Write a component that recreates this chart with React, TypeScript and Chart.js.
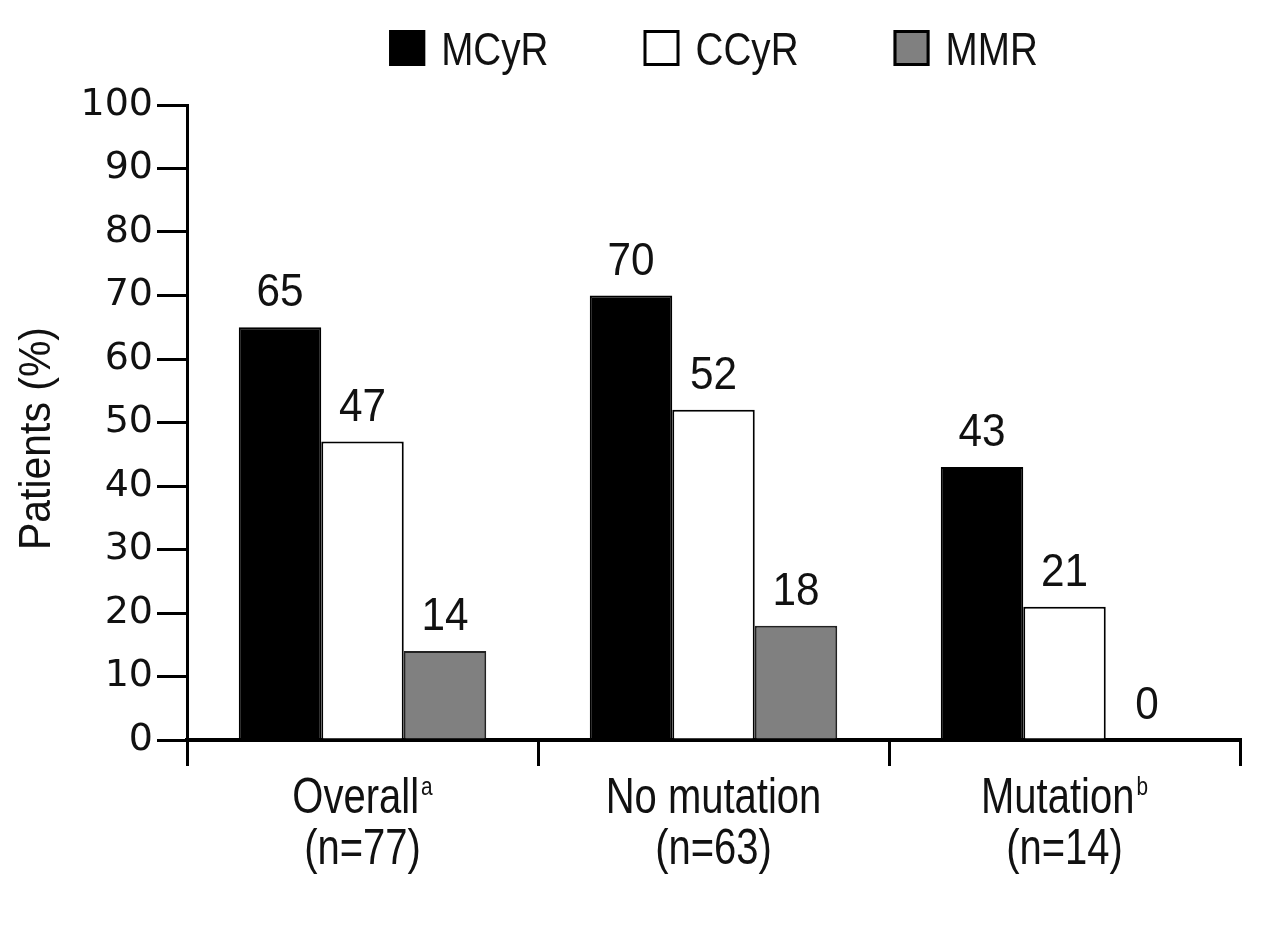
import React, { useEffect, useRef } from "react";
import { Chart, registerables } from "chart.js";

Chart.register(...registerables);

const categoryNames = ["Overall", "No mutation", "Mutation"];
const categorySup = ["a", "", "b"];
const categoryN = ["(n=77)", "(n=63)", "(n=14)"];
const seriesNames = ["MCyR", "CCyR", "MMR"];
const mcyr = [65, 70, 43];
const ccyr = [47, 52, 21];
const mmr = [14, 18, 0];
const yTicks = [0, 10, 20, 30, 40, 50, 60, 70, 80, 90, 100];
const yTitle = "Patients (%)";

const SANS = '"Liberation Sans", Arial, sans-serif';

function narrowText(
  ctx: CanvasRenderingContext2D,
  text: string,
  x: number,
  y: number,
  size: number,
  sx: number,
  align: CanvasTextAlign,
  baseline: CanvasTextBaseline
) {
  ctx.save();
  ctx.translate(x, y);
  ctx.scale(sx, 1);
  ctx.font = `${size}px ${SANS}`;
  ctx.textAlign = align;
  ctx.textBaseline = baseline;
  ctx.fillText(text, 0, 0);
  ctx.restore();
}

function narrowWidth(ctx: CanvasRenderingContext2D, text: string, size: number, sx: number) {
  ctx.save();
  ctx.font = `${size}px ${SANS}`;
  const w = ctx.measureText(text).width * sx;
  ctx.restore();
  return w;
}

const valueLabels = {
  id: "valueLabels",
  afterDatasetsDraw(chart: any) {
    const ctx = chart.ctx;
    ctx.save();
    ctx.fillStyle = "#111";
    chart.data.datasets.forEach((ds: any, di: number) => {
      const meta = chart.getDatasetMeta(di);
      meta.data.forEach((bar: any, i: number) => {
        narrowText(ctx, String(ds.data[i]), bar.x, bar.y - 21, 47, 0.9, "center", "alphabetic");
      });
    });
    ctx.restore();
  },
};

const textLayer = {
  id: "textLayer",
  afterDraw(chart: any) {
    const ctx = chart.ctx;
    const ca = chart.chartArea;
    ctx.save();
    ctx.fillStyle = "#111";

    // legend
    const box = 36;
    const gapText = 16;
    const gapItem = 95;
    const lsize = 46;
    const lsx = 0.84;
    const items = chart.data.datasets.map((ds: any) => ({
      label: ds.label,
      fill: ds.backgroundColor,
      w: box + gapText + narrowWidth(ctx, ds.label, lsize, lsx),
    }));
    const total = items.reduce((s: number, it: any) => s + it.w, 0) + gapItem * (items.length - 1);
    let x = (ca.left + ca.right) / 2 - total / 2;
    const yTop = 30;
    items.forEach((it: any) => {
      ctx.fillStyle = it.fill;
      ctx.fillRect(x, yTop, box, box);
      ctx.lineWidth = 3;
      ctx.strokeStyle = "#000";
      ctx.strokeRect(x + 1.5, yTop + 1.5, box - 3, box - 3);
      ctx.fillStyle = "#111";
      narrowText(ctx, it.label, x + box + gapText, yTop + box / 2 + 17, lsize, lsx, "left", "alphabetic");
      x += it.w + gapItem;
    });

    // category labels
    const xs = chart.scales.x;
    const csize = 50;
    const csx = 0.8;
    categoryNames.forEach((name, i) => {
      const cx = xs.getPixelForValue(i);
      const wMain = narrowWidth(ctx, name, csize, csx);
      const sup = categorySup[i];
      const wSup = sup ? narrowWidth(ctx, sup, 26, 0.8) + 2 : 0;
      const start = cx - (wMain + wSup) / 2;
      narrowText(ctx, name, start, 813, csize, csx, "left", "alphabetic");
      if (sup) narrowText(ctx, sup, start + wMain + 2, 795, 26, 0.8, "left", "alphabetic");
      narrowText(ctx, categoryN[i], cx, 864, csize, csx, "center", "alphabetic");
    });

    // y title
    ctx.save();
    ctx.translate(38, (ca.top + ca.bottom) / 2 + 16);
    ctx.rotate(-Math.PI / 2);
    narrowText(ctx, yTitle, 0, 0, 44, 0.93, "center", "middle");
    ctx.restore();

    ctx.restore();
  },
};

export default function App() {
  const ref = useRef<HTMLCanvasElement>(null);
  useEffect(() => {
    if (!ref.current) return;
    const chart = new Chart(ref.current, {
      type: "bar",
      data: {
        labels: categoryNames,
        datasets: [
          {
            label: seriesNames[0],
            data: mcyr,
            backgroundColor: "#000000",
            borderColor: "#000000",
            borderWidth: 2,
          },
          {
            label: seriesNames[1],
            data: ccyr,
            backgroundColor: "#ffffff",
            borderColor: "#000000",
            borderWidth: 2,
          },
          {
            label: seriesNames[2],
            data: mmr,
            backgroundColor: "#808080",
            borderColor: "#222222",
            borderWidth: 2,
          },
        ],
      },
      options: {
        animation: false,
        responsive: false,
        devicePixelRatio: 1,
        layout: { padding: { top: 105, right: 40, left: 0, bottom: 0 } },
        plugins: {
          legend: { display: false },
          tooltip: { enabled: false },
        },
        datasets: {
          bar: { categoryPercentage: 0.705, barPercentage: 1 },
        },
        scales: {
          x: {
            offset: true,
            grid: {
              offset: true,
              drawOnChartArea: false,
              tickLength: 26,
              lineWidth: 3,
              color: "#000",
            },
            border: { display: true, width: 4, color: "#000" },
            ticks: { display: false },
            afterFit(scale: any) {
              scale.height = 185;
            },
          },
          y: {
            min: 0,
            max: 100,
            afterBuildTicks(scale: any) {
              scale.ticks = yTicks.map((v) => ({ value: v }));
            },
            grid: {
              drawOnChartArea: false,
              tickLength: 30,
              lineWidth: 3,
              color: "#000",
            },
            border: { display: true, width: 3, color: "#000" },
            ticks: {
              color: "#111",
              padding: 4,
              font: { family: '"DejaVu Sans", sans-serif', size: 38 },
            },
            afterFit(scale: any) {
              scale.width = 187;
            },
          },
        },
      },
      plugins: [valueLabels, textLayer],
    });
    return () => chart.destroy();
  }, []);
  return (
    <div style={{ position: "fixed", left: 0, top: 0, width: 1280, height: 925, background: "#fff" }}>
      <canvas ref={ref} width={1280} height={925} style={{ width: 1280, height: 925 }} />
    </div>
  );
}
